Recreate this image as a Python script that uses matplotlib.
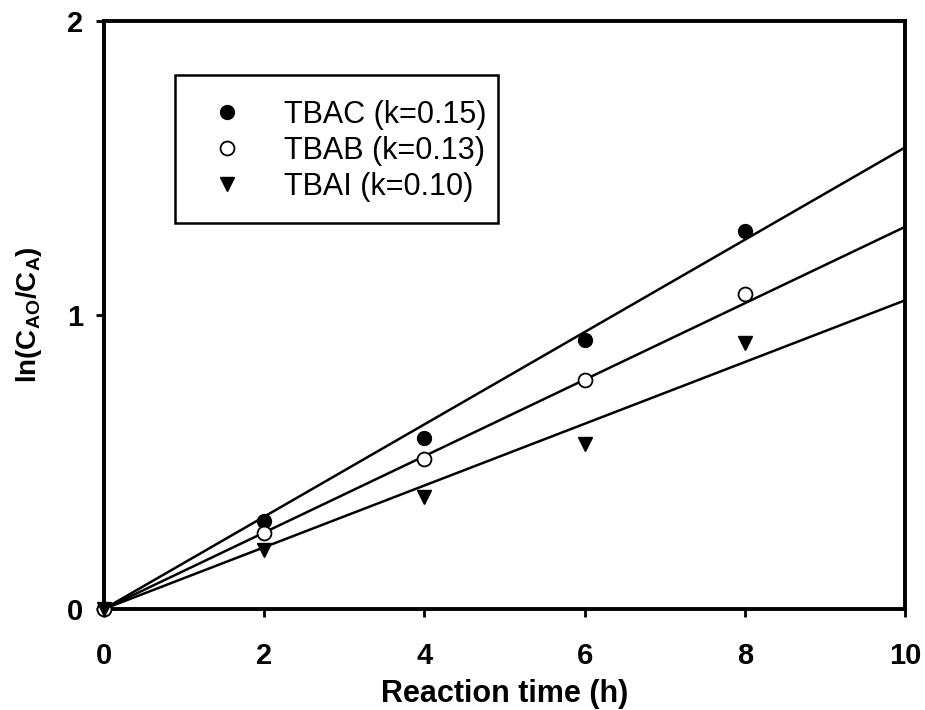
import numpy as np
import matplotlib.pyplot as plt
from matplotlib.patches import Rectangle

plt.rcParams['font.family'] = ['Liberation Sans', 'DejaVu Sans']
plt.rcParams['mathtext.fontset'] = 'custom'
plt.rcParams['mathtext.rm'] = 'Liberation Sans'
plt.rcParams['mathtext.bf'] = 'Liberation Sans:bold'

# data
time_h = [0, 2, 4, 6, 8]
tbac = [0, 0.30, 0.58, 0.915, 1.285]
tbab = [0, 0.26, 0.51, 0.78, 1.07]
tbai = [0, 0.20, 0.38, 0.56, 0.905]
# slopes of the fitted lines through origin
slopes = [0.157, 0.130, 0.105]
labels = ['TBAC (k=0.15)', 'TBAB (k=0.13)', 'TBAI (k=0.10)']

fig = plt.figure(figsize=(9.25, 7.10), dpi=100)
ax = fig.add_axes([0.1124, 0.1423, 0.866, 0.828])

# fitted lines
xl = np.array([0, 10])
for k in slopes:
    ax.plot(xl, k * xl, color='black', lw=1.8, zorder=2)

ax.plot(time_h, tbac, 'o', color='black', ms=10, label=labels[0],
        zorder=3, clip_on=False)
ax.plot(time_h, tbab, 'o', mfc='white', mec='black', mew=1.3, ms=10,
        label=labels[1], zorder=3, clip_on=False)
ax.plot(time_h, tbai, 'v', color='black', ms=10, label=labels[2],
        zorder=3, clip_on=False)

ax.set_xlim(0, 10)
ax.set_ylim(0, 2)
ax.set_xticks([0, 2, 4, 6, 8, 10])
ax.set_yticks([0, 1, 2])
for s in ax.spines.values():
    s.set_linewidth(2.8)
ax.tick_params(direction='out', length=6, width=2, labelsize=21)
ax.tick_params(axis='x', pad=18)
ax.tick_params(axis='y', pad=9)
for t in ax.get_xticklabels() + ax.get_yticklabels():
    t.set_fontweight('bold')

ax.set_xlabel('Reaction time (h)', fontsize=22, fontweight='bold', va='center')
ax.xaxis.set_label_coords(0.5, -0.145)
ax.set_ylabel(r'$\mathbf{ln(C_{AO}/C_A)}$', fontsize=20, va='center')
ax.yaxis.set_label_coords(-0.094, 0.5)

# legend box drawn separately so its padding matches the original
ax.add_patch(Rectangle((0.0886, 0.6565), 0.4033, 0.2517, transform=ax.transAxes,
                       fill=False, ec='black', lw=1.8, zorder=4))
leg = ax.legend(loc='upper left', bbox_to_anchor=(0.116, 0.866),
                fontsize=22, frameon=False, borderpad=0,
                handletextpad=0.85, labelspacing=0.2,
                borderaxespad=0, handlelength=2.0)

fig.savefig('out.png', dpi=100)
